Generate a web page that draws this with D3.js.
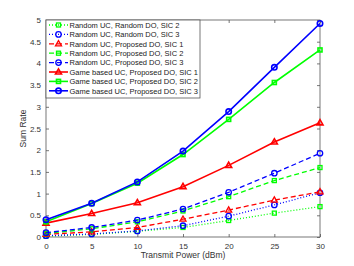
<!DOCTYPE html>
<html>
<head>
<meta charset="utf-8">
<script src="https://cdn.jsdelivr.net/npm/d3@7"></script>
<style>
  body { margin: 0; background: #fff; }
  svg { font-family: "Liberation Sans", Arial, sans-serif; }
</style>
</head>
<body>
<div class="playground"></div>
<script>
var power = [0, 5, 10, 15, 20, 25, 30];

var rrSic2 = [0.02, 0.06, 0.13, 0.22, 0.38, 0.55, 0.70];
var rrSic3 = [0.03, 0.07, 0.14, 0.26, 0.48, 0.74, 1.02];
var rpSic1 = [0.06, 0.12, 0.22, 0.41, 0.62, 0.85, 1.04];
var rpSic2 = [0.08, 0.19, 0.35, 0.60, 0.93, 1.30, 1.60];
var rpSic3 = [0.10, 0.22, 0.39, 0.645, 1.03, 1.47, 1.93];
var gpSic1 = [0.32, 0.54, 0.79, 1.16, 1.65, 2.19, 2.63];
var gpSic2 = [0.35, 0.77, 1.24, 1.90, 2.71, 3.56, 4.31];
var gpSic3 = [0.40, 0.78, 1.27, 1.98, 2.89, 3.91, 4.92];

var seriesNames = [
  "Random UC, Random DO, SIC 2",
  "Random UC, Random DO, SIC 3",
  "Random UC, Proposed DO, SIC 1",
  "Random UC, Proposed DO, SIC 2",
  "Random UC, Proposed DO, SIC 3",
  "Game based UC, Proposed DO, SIC 1",
  "Game based UC, Proposed DO, SIC 2",
  "Game based UC, Proposed DO, SIC 3"
];
var seriesValues = [rrSic2, rrSic3, rpSic1, rpSic2, rpSic3, gpSic1, gpSic2, gpSic3];
var seriesColors = ["#00ff00", "#0000ff", "#ff0000", "#00ff00", "#0000ff", "#ff0000", "#00ff00", "#0000ff"];
var seriesMarkers = ["square", "circle", "triangle", "square", "circle", "triangle", "square", "circle"];
var seriesDash = ["1,2", "1,2", "5,3", "5,3", "5,3", null, null, null];
var seriesWidth = [1.3, 1.3, 1.3, 1.3, 1.3, 1.6, 1.6, 1.6];

var xTicks = [0, 5, 10, 15, 20, 25, 30];
var yTicks = [0, 0.5, 1, 1.5, 2, 2.5, 3, 3.5, 4, 4.5, 5];

var W = 354, H = 266;
var pL = 46, pR = 320, pT = 20, pB = 237;

var svg = d3.select('body').select('.playground')
  .append('svg').attr('width', W).attr('height', H);

var x = d3.scaleLinear().domain([0, 30]).range([pL, pR]);
var y = d3.scaleLinear().domain([0, 5]).range([pB, pT]);

var axisColor = "#555";

// box
svg.append('rect')
  .attr('x', pL).attr('y', pT)
  .attr('width', pR - pL).attr('height', pB - pT)
  .attr('fill', 'none').attr('stroke', axisColor).attr('stroke-width', 0.8);

function styleAxis(g) {
  g.select('.domain').remove();
  g.selectAll('.tick line').attr('stroke', axisColor).attr('stroke-width', 0.8);
  g.selectAll('.tick text').attr('fill', '#333').style('font-size', '8px');
}

svg.append('g').attr('transform', 'translate(0,' + pB + ')')
  .call(d3.axisBottom(x).tickValues(xTicks).tickSize(-3).tickPadding(6).tickFormat(d3.format('d')))
  .call(styleAxis);
svg.append('g').attr('transform', 'translate(0,' + pT + ')')
  .call(d3.axisTop(x).tickValues(xTicks).tickSize(-3).tickFormat(''))
  .call(styleAxis);
svg.append('g').attr('transform', 'translate(' + pL + ',0)')
  .call(d3.axisLeft(y).tickValues(yTicks).tickSize(-3).tickPadding(5).tickFormat(d3.format('')))
  .call(styleAxis);
svg.append('g').attr('transform', 'translate(' + pR + ',0)')
  .call(d3.axisRight(y).tickValues(yTicks).tickSize(-3).tickFormat(''))
  .call(styleAxis);

svg.append('text')
  .attr('x', (pL + pR) / 2).attr('y', 258)
  .attr('text-anchor', 'middle').style('font-size', '8.5px').attr('fill', '#333')
  .text('Transmit Power (dBm)');
svg.append('text')
  .attr('transform', 'translate(26,' + ((pT + pB) / 2) + ') rotate(-90)')
  .attr('text-anchor', 'middle').style('font-size', '8.5px').attr('fill', '#333')
  .text('Sum Rate');

function drawMarker(g, type, cx, cy, color, sw) {
  if (type === 'circle') {
    g.append('circle').attr('cx', cx).attr('cy', cy).attr('r', 2.7)
      .attr('fill', 'none').attr('stroke', color).attr('stroke-width', sw);
  } else if (type === 'square') {
    g.append('rect').attr('x', cx - 2).attr('y', cy - 2).attr('width', 4).attr('height', 4)
      .attr('fill', 'none').attr('stroke', color).attr('stroke-width', sw);
  } else {
    g.append('path').attr('d', 'M' + cx + ',' + (cy - 3.2) + 'L' + (cx + 3) + ',' + (cy + 2) + 'L' + (cx - 3) + ',' + (cy + 2) + 'Z')
      .attr('fill', 'none').attr('stroke', color).attr('stroke-width', sw);
  }
}

var line = d3.line().x(function(d){ return x(d[0]); }).y(function(d){ return y(d[1]); });

seriesValues.forEach(function(vals, i) {
  var g = svg.append('g');
  var pts = power.map(function(p, j){ return [p, vals[j]]; });
  g.append('path').datum(pts).attr('d', line)
    .attr('fill', 'none').attr('stroke', seriesColors[i]).attr('stroke-width', seriesWidth[i])
    .attr('stroke-dasharray', seriesDash[i]);
  pts.forEach(function(p){ drawMarker(g, seriesMarkers[i], x(p[0]), y(p[1]), seriesColors[i], seriesWidth[i]); });
});

// legend
var lg = svg.append('g');
lg.append('rect').attr('x', pL).attr('y', pT).attr('width', 154).attr('height', 78)
  .attr('fill', '#fff').attr('stroke', axisColor).attr('stroke-width', 0.8);
seriesNames.forEach(function(name, i) {
  var ly = 25 + i * 9.4;
  lg.append('line').attr('x1', 49).attr('x2', 68).attr('y1', ly).attr('y2', ly)
    .attr('stroke', seriesColors[i]).attr('stroke-width', seriesWidth[i])
    .attr('stroke-dasharray', seriesDash[i]);
  drawMarker(lg, seriesMarkers[i], 58.5, ly, seriesColors[i], seriesWidth[i]);
  lg.append('text').attr('x', 69.5).attr('y', ly + 2.8)
    .style('font-size', '7.5px').attr('fill', '#222').text(name);
});
</script>
</body>
</html>
